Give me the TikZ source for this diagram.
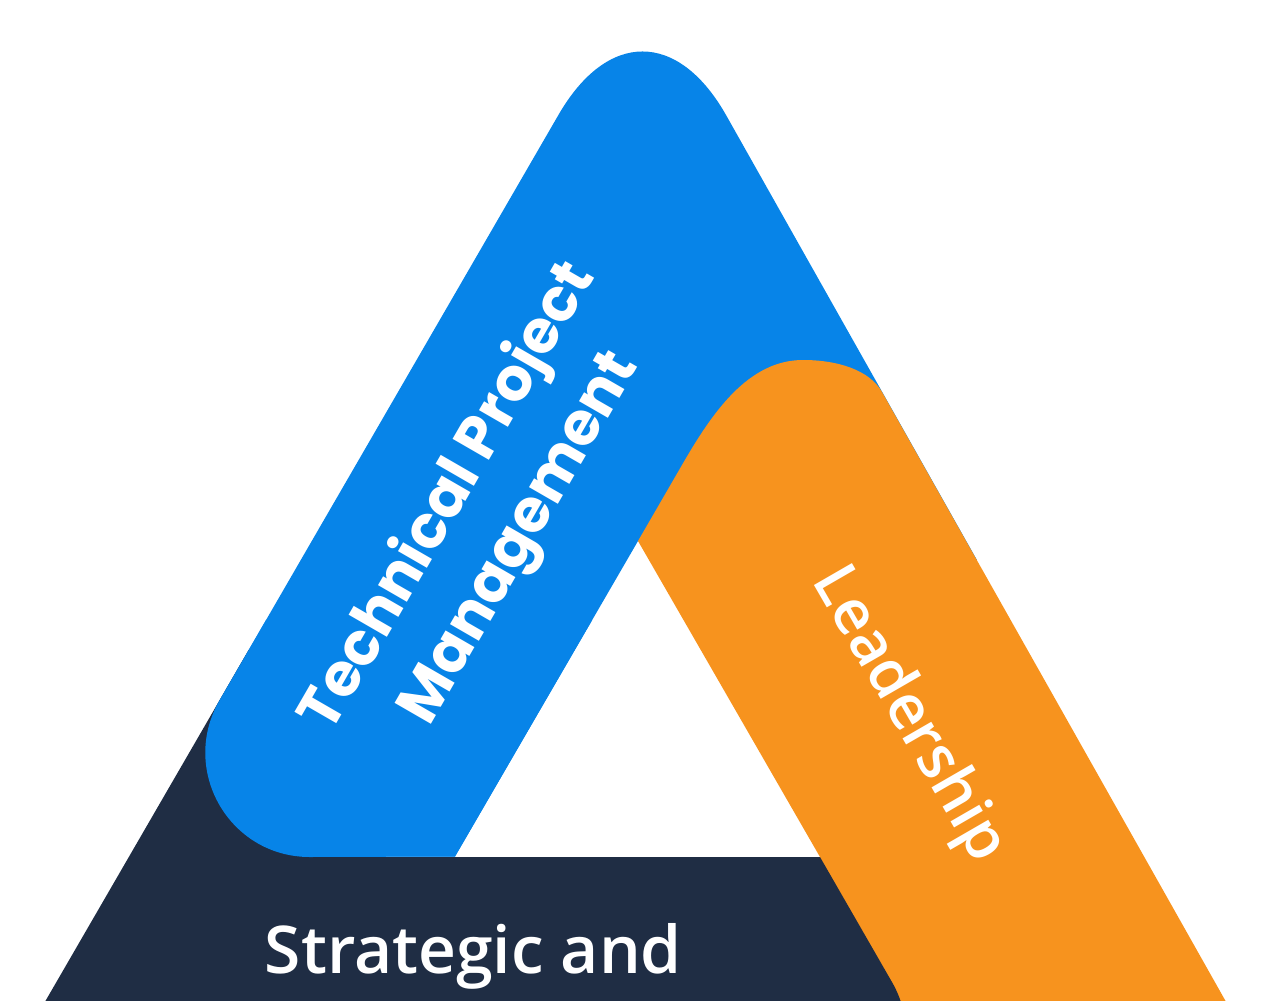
\documentclass[tikz,border=0pt]{standalone}
\usepackage{fontspec}
\newfontfamily\tpmfont{Poppins}
\IfFontExistsTF{Open Sans Semibold}
  {\newfontfamily\osfont{Open Sans Semibold}}
  {\IfFontExistsTF{Noto Sans SemiBold}
     {\newfontfamily\osfont{Noto Sans SemiBold}}
     {\newfontfamily\osfont{Open Sans}}}
\definecolor{bandblue}{HTML}{0784E8}
\definecolor{bandorange}{HTML}{F7931E}
\definecolor{banddark}{HTML}{1F2D44}
\begin{document}
\begin{tikzpicture}[x=0.02cm,y=-0.02cm,
  tpm/.style={text=white, font=\tpmfont\bfseries\fontsize{136}{186}\selectfont, align=center, inner sep=0pt, scale=0.25, transform shape},
  lbl/.style={text=white, font=\osfont\fontsize{140}{168}\selectfont, inner sep=0pt, scale=0.25, transform shape}]
\useasboundingbox (0,0) rectangle (1280,1000);
\clip (0,0) rectangle (1280,1000);
% blue band (left side, apex)
\fill[bandblue] (558.4,115) .. controls (607.3,30.3) and (677.9,30.3) .. (726,115)
  -- (976.9,560) -- (680,560) -- (638,541) -- (455,856.5) -- (309.8,857)
  .. controls (229.3,857) and (179.2,770.1) .. (219.5,700.4) -- cycle;
% orange band (right side)
\fill[bandorange] (682,465) .. controls (712,413) and (748,360) .. (803,360)
  .. controls (838,360) and (869.7,370.2) .. (882,392)
  -- (1303.4,1139) -- (820,1139) -- (820,857) -- (638,541) -- cycle;
% dark band (bottom)
\fill[banddark] (820,857) -- (330,857) -- (330,650) -- (248.7,650) -- (-34.5,1139)
  -- (801.4,1139) .. controls (881.9,1139) and (932.2,1051.9) .. (892,982.1) -- cycle;
% blue band lower part again, on top of the dark band
\begin{scope}
\clip (0,620) rectangle (1280,1200);
\fill[bandblue] (558.4,115) .. controls (607.3,30.3) and (677.9,30.3) .. (726,115)
  -- (976.9,560) -- (680,560) -- (638,541) -- (455,856.5) -- (309.8,857)
  .. controls (229.3,857) and (179.2,770.1) .. (219.5,700.4) -- cycle;
\end{scope}
\node[tpm, rotate=60] (tech) at (485,518) {Technical Project\\Management};
\node[lbl, rotate=-60] (lead) at (908,715) {Leadership};
\node[text=white, inner sep=0pt, anchor=base, font=\osfont\fontsize{37.5}{44}\selectfont] (strat) at (473.5,973) {Strategic and};
\end{tikzpicture}
\end{document}
